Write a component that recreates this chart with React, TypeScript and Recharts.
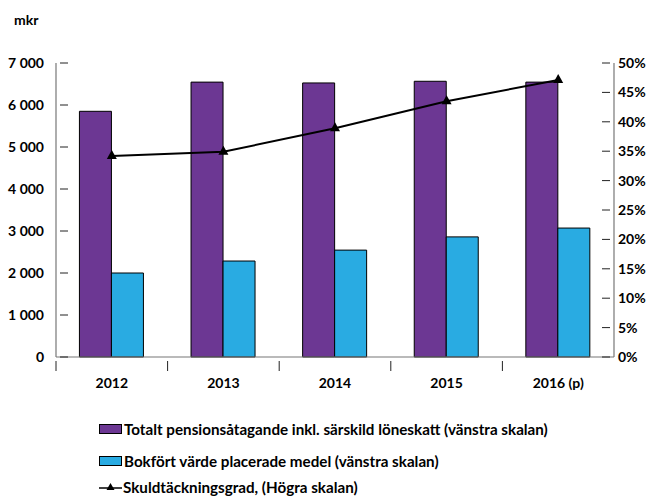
import React from 'react';
import { ComposedChart, Bar, Line, XAxis, YAxis } from 'recharts';

const categories = ['2012', '2013', '2014', '2015', '2016 (p)'];
const totalCommitment = [5850, 6545, 6525, 6565, 6545];
const bookValue = [2000, 2285, 2545, 2860, 3070];
const coverageRatio = [34.2, 34.9, 38.9, 43.5, 47.1];
const leftTicks = [0, 1000, 2000, 3000, 4000, 5000, 6000, 7000];
const rightTicks = [0, 5, 10, 15, 20, 25, 30, 35, 40, 45, 50];

const seriesNames = [
  'Totalt pensionsåtagande inkl. särskild löneskatt (vänstra skalan)',
  'Bokfört värde placerade medel (vänstra skalan)',
  'Skuldtäckningsgrad, (Högra skalan)',
];

const data = categories.map((c, i) => ({
  cat: c,
  total: totalCommitment[i],
  book: bookValue[i],
  ratio: coverageRatio[i],
}));

const FONT = 'Lato, "Open Sans", sans-serif';
const PURPLE = '#6C3793';
const BLUE = '#29ABE2';

const fmtThousands = (v: number) => {
  const s = String(v);
  return s.length > 3 ? s.slice(0, s.length - 3) + ' ' + s.slice(-3) : s;
};

const LeftTick = (props: any) => {
  const { x, y, payload } = props;
  return (
    <g>
      <line x1={x + 12} x2={x + 20} y1={y} y2={y} stroke="#222" strokeWidth={1} />
      <text x={x - 4} y={y} dy={5} textAnchor="end" fontFamily={FONT} fontWeight={700} fontSize={14} fill="#000">
        {fmtThousands(payload.value)}
      </text>
    </g>
  );
};

const RightTick = (props: any) => {
  const { x, y, payload } = props;
  return (
    <g>
      <line x1={x - 20} x2={x - 12} y1={y} y2={y} stroke="#222" strokeWidth={1} />
      <text x={x - 4} y={y} dy={5} textAnchor="start" fontFamily={FONT} fontWeight={700} fontSize={14} fill="#000">
        {payload.value + '%'}
      </text>
    </g>
  );
};

const BottomTick = (props: any) => {
  const { x, y, payload, index } = props;
  const half = 558 / 5 / 2;
  return (
    <g>
      {index < categories.length - 1 && (
        <line x1={x + half} x2={x + half} y1={y - 4} y2={y + 6} stroke="#222" strokeWidth={1} />
      )}
      {index === 0 && (
        <line x1={x - half} x2={x - half} y1={y - 4} y2={y + 6} stroke="#222" strokeWidth={1} />
      )}
      <text x={x} y={y + 23} dy={0} textAnchor="middle" fontFamily={FONT} fontWeight={700} fontSize={14} fill="#000">
        {payload.value}
      </text>
    </g>
  );
};

const Triangle = (props: any) => {
  const { cx, cy } = props;
  if (cx == null || cy == null) return null;
  return <path d={`M${cx},${cy - 6} L${cx + 5},${cy + 3} L${cx - 5},${cy + 3} Z`} fill="#000" />;
};

const LegendBlock = () => (
  <div style={{ position: 'absolute', left: 99, top: 420, fontFamily: FONT, fontWeight: 700, fontSize: 15.2, color: '#000', whiteSpace: 'nowrap' }}>
    <div style={{ display: 'flex', alignItems: 'center', height: 18, marginBottom: 14 }}>
      <span style={{ display: 'inline-block', width: 21, height: 8, background: PURPLE, border: '1px solid #000', marginRight: 2 }} />
      <span>{seriesNames[0]}</span>
    </div>
    <div style={{ display: 'flex', alignItems: 'center', height: 18, marginBottom: 8 }}>
      <span style={{ display: 'inline-block', width: 21, height: 8, background: BLUE, border: '1px solid #000', marginRight: 2 }} />
      <span>{seriesNames[1]}</span>
    </div>
    <div style={{ display: 'flex', alignItems: 'center', height: 18 }}>
      <svg width={23} height={12} style={{ marginRight: 1 }}>
        <line x1={0} x2={23} y1={7} y2={7} stroke="#000" strokeWidth={1.5} />
        <path d="M11.5,2 L15.5,9 L7.5,9 Z" fill="#000" />
      </svg>
      <span>{seriesNames[2]}</span>
    </div>
  </div>
);

export default function App() {
  return (
    <div style={{ position: 'absolute', left: 0, top: 0, width: 660, height: 497, background: '#fff', overflow: 'hidden' }}>
      <div style={{ position: 'absolute', left: 14, top: 11, fontFamily: FONT, fontWeight: 700, fontSize: 14 }}>mkr</div>
      <ComposedChart
        width={660}
        height={497}
        data={data}
        margin={{ top: 63, right: 0, left: 0, bottom: 100 }}
        barCategoryGap="21%"
        barGap={0}
      >
        <XAxis
          dataKey="cat"
          axisLine={{ stroke: '#777', strokeWidth: 1.2 }}
          tickLine={false}
          tick={<BottomTick />}
          interval={0}
          height={40}
        />
        <YAxis
          yAxisId="left"
          orientation="left"
          domain={[0, 7000]}
          ticks={leftTicks}
          width={56}
          axisLine={{ stroke: '#777', strokeWidth: 1.2 }}
          tickLine={false}
          tick={<LeftTick />}
          interval={0}
        />
        <YAxis
          yAxisId="right"
          orientation="right"
          domain={[0, 50]}
          ticks={rightTicks}
          width={46}
          axisLine={{ stroke: '#777', strokeWidth: 1.2 }}
          tickLine={false}
          tick={<RightTick />}
          interval={0}
        />
        <Bar dataKey="total" name={seriesNames[0]} yAxisId="left" fill={PURPLE} stroke="#000" strokeWidth={1} isAnimationActive={false} />
        <Bar dataKey="book" name={seriesNames[1]} yAxisId="left" fill={BLUE} stroke="#000" strokeWidth={1} isAnimationActive={false} />
        <Line
          dataKey="ratio"
          name={seriesNames[2]}
          yAxisId="right"
          stroke="#000"
          strokeWidth={2}
          dot={<Triangle />}
          activeDot={false}
          isAnimationActive={false}
        />
      </ComposedChart>
      <LegendBlock />
    </div>
  );
}
